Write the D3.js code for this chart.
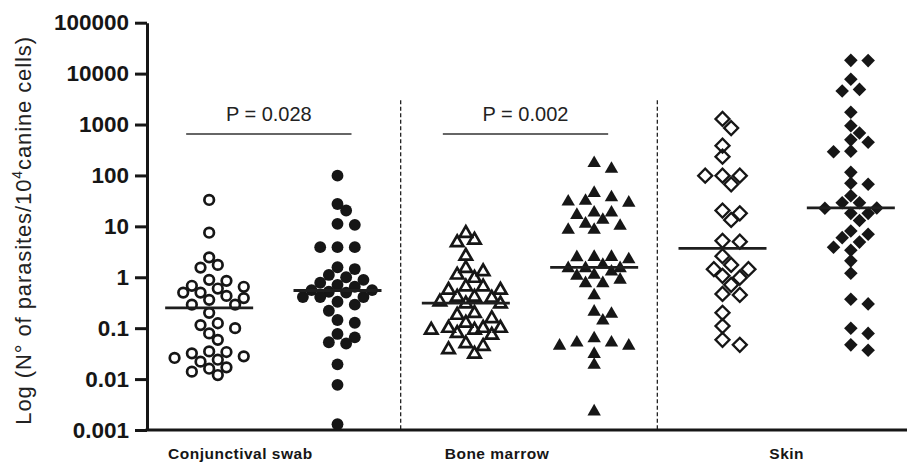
<!DOCTYPE html>
<html>
<head>
<meta charset="utf-8">
<script src="https://cdn.jsdelivr.net/npm/d3@7"></script>
<style>
  body { margin: 0; background: #fff; }
  svg { display: block; font-family: "Liberation Sans", Arial, sans-serif; }
</style>
</head>
<body>
<svg id="chart" width="907" height="465"></svg>
<script>
// data
const categories = ["Conjunctival swab", "Bone marrow", "Skin"];
const seriesNames = ["cs_open", "cs_filled", "bm_open", "bm_filled", "skin_open", "skin_filled"];

const csOpen = [33, 7.5, 2.46, 1.75, 1.55, 0.89, 0.85, 0.68, 0.60, 0.65, 0.50, 0.50, 0.43, 0.36, 0.39,
  0.29, 0.29, 0.20, 0.115, 0.125, 0.10, 0.079, 0.059, 0.035, 0.032, 0.034, 0.026, 0.028, 0.024,
  0.022, 0.016, 0.017, 0.014, 0.012];
const csFilled = [99, 27.5, 20.5, 11.2, 10.7, 3.9, 3.9, 3.9, 1.57, 1.45, 1.11, 1.0, 0.89, 0.78, 0.65,
  0.71, 0.56, 0.50, 0.56, 0.41, 0.41, 0.41, 0.52, 0.33, 0.22, 0.29, 0.128, 0.145, 0.077, 0.053,
  0.050, 0.066, 0.0195, 0.0077, 0.0013];
const bmOpen = [7.3, 4.8, 5.4, 2.6, 1.29, 1.5, 0.96, 1.11, 0.65, 0.56, 0.56, 0.65, 0.41, 0.41, 0.39,
  0.33, 0.30, 0.30, 0.18, 0.195, 0.155, 0.10, 0.126, 0.079, 0.10, 0.10, 0.073, 0.092, 0.092,
  0.044, 0.038, 0.050, 0.031];
const bmFilled = [174, 134, 45, 37, 31.5, 29, 30.5, 16.7, 18.5, 18.5, 11.2, 13.4, 8.5, 8.5, 10.2,
  2.5, 2.46, 2.24, 2.5, 1.5, 1.5, 1.5, 1.75, 1.11, 1.07, 1.29, 0.89, 0.76, 0.76, 0.44, 0.19, 0.21,
  0.14, 0.063, 0.052, 0.045, 0.045, 0.052, 0.031, 0.019, 0.0023];
const skinOpen = [1290, 850, 385, 234, 99, 67, 99, 99, 18, 13.4, 20.4, 5.0, 5.2, 2.6, 1.44, 1.07,
  0.98, 1.44, 1.75, 0.71, 0.45, 0.47, 0.20, 0.11, 0.047, 0.059];
const skinFilled = [18000, 18200, 7760, 4900, 4570, 1740, 950, 680, 450, 293, 300, 500, 115, 70, 67,
  40, 29, 29, 22.6, 23, 18, 18, 13, 8.1, 7.0, 6.0, 4.9, 3.9, 3.4, 2.1, 1.2, 0.30, 0.37, 0.079,
  0.10, 0.037, 0.047];

const medians = [0.25, 0.55, 0.31, 1.57, 3.7, 23];
const pValues = [{ from: 0, to: 1, label: "P = 0.028" }, { from: 2, to: 3, label: "P = 0.002" }];

const tickValues = [0.001, 0.01, 0.1, 1, 10, 100, 1000, 10000, 100000];
const tickLabels = ["0.001", "0.01", "0.1", "1", "10", "100", "1000", "10000", "100000"];

const allSeries = [csOpen, csFilled, bmOpen, bmFilled, skinOpen, skinFilled];

// styles
const ink = "#161616";
const shapes = ["circle", "circle", "triangle", "triangle", "diamond", "diamond"];
const filled = [false, true, false, true, false, true];

const svg = d3.select("#chart");
const plotTop = 22.7, plotBottom = 430, axisX = 147;

const y = d3.scaleLog().domain([0.001, 100000]).range([plotBottom, plotTop]);
const x = d3.scaleBand().domain(seriesNames).range([145, 915]).padding(0);
const cx = name => x(name) + x.bandwidth() / 2;

// dashed separators between tissues
[2, 4].forEach(i => {
  const sx = x(seriesNames[i]) - 1;
  svg.append("line")
    .attr("x1", sx).attr("x2", sx)
    .attr("y1", y(3000)).attr("y2", plotBottom)
    .attr("stroke", "#222").attr("stroke-width", 1.3)
    .attr("stroke-dasharray", "4,2.5");
});

// y axis
const yAxis = svg.append("g")
  .attr("transform", `translate(${axisX},0)`)
  .call(d3.axisLeft(y).tickValues(tickValues)
    .tickFormat((d, i) => tickLabels[i]).tickSize(12).tickSizeOuter(0).tickPadding(6));
yAxis.select(".domain").attr("stroke", ink).attr("stroke-width", 3);
yAxis.selectAll(".tick line").attr("stroke", ink).attr("stroke-width", 3);
yAxis.selectAll(".tick text")
  .attr("fill", ink).attr("font-size", 22.5).attr("font-weight", "bold")
  .attr("font-family", "Liberation Sans, Arial, sans-serif");

// x axis line
svg.append("line")
  .attr("x1", axisX - 1.5).attr("x2", 907)
  .attr("y1", plotBottom).attr("y2", plotBottom)
  .attr("stroke", ink).attr("stroke-width", 3);

// category labels
const labelShift = [-33, -33, 0];
categories.forEach((c, i) => {
  const mid = (cx(seriesNames[2 * i]) + cx(seriesNames[2 * i + 1])) / 2 + labelShift[i];
  svg.append("text")
    .attr("x", mid).attr("y", 459)
    .attr("text-anchor", "middle")
    .attr("font-size", 15.5).attr("font-weight", "bold")
    .attr("letter-spacing", 0.5)
    .attr("fill", ink)
    .text(c);
});

// y title
const title = svg.append("text")
  .attr("transform", `translate(31,${(plotTop + plotBottom) / 2 + 4}) rotate(-90)`)
  .attr("text-anchor", "middle")
  .attr("font-size", 22)
  .attr("letter-spacing", 0.9)
  .attr("fill", "#222");
title.append("tspan").text("Log (N\u00b0 of parasites/10");
title.append("tspan").attr("font-size", 14).attr("dy", -9).text("4");
title.append("tspan").attr("dy", 9).text("canine cells)");

// simple beeswarm, kept within +-4 half-columns like the original scatter
function swarm(values, center) {
  const step = 8.65, minD = 10.6, maxK = 8;
  const pts = values.map(v => ({ v, y: y(v) })).sort((a, b) => a.y - b.y);
  const placed = [];
  pts.forEach(p => {
    let best = null, bestGap = -1;
    for (let k = 0; k <= maxK; k++) {
      const off = (k === 0 ? 0 : (k % 2 ? 1 : -1) * Math.ceil(k / 2)) * step;
      const px = center + off;
      const gap = placed.length ? d3.min(placed, q => Math.hypot(q.x - px, q.y - p.y)) : Infinity;
      if (gap >= minD) { best = px; break; }
      if (gap > bestGap) { bestGap = gap; best = px; }
    }
    p.x = best;
    placed.push(p);
  });
  return pts;
}

const symbolFor = {
  circle: f => d3.symbol(d3.symbolCircle, f ? 110 : 72)(),
  triangle: f => d3.symbol(d3.symbolTriangle, f ? 78 : 66)(),
  diamond: f => d3.symbol(d3.symbolSquare, f ? 92 : 98)()
};

allSeries.forEach((vals, i) => {
  const name = seriesNames[i];
  const pts = swarm(vals, cx(name));
  const f = filled[i];
  const shape = shapes[i];
  svg.append("g").selectAll("path")
    .data(pts).enter().append("path")
    .attr("d", symbolFor[shape](f))
    .attr("transform", d => `translate(${d.x},${d.y})` + (shape === "diamond" ? " rotate(45)" : ""))
    .attr("fill", f ? ink : "none")
    .attr("stroke", ink)
    .attr("stroke-width", f ? 0 : (shape === "diamond" ? 2.3 : 2.7))
    .attr("stroke-linejoin", "miter");

  // median line
  svg.append("line")
    .attr("x1", cx(name) - 44).attr("x2", cx(name) + 44)
    .attr("y1", y(medians[i])).attr("y2", y(medians[i]))
    .attr("stroke", "#1e1e1e").attr("stroke-width", 2.8);
});

// p-value bars
pValues.forEach(p => {
  const x1 = cx(seriesNames[p.from]) - 23, x2 = cx(seriesNames[p.to]) + 14;
  const yy = y(650);
  svg.append("line")
    .attr("x1", x1).attr("x2", x2).attr("y1", yy).attr("y2", yy)
    .attr("stroke", "#333").attr("stroke-width", 1.6);
  svg.append("text")
    .attr("x", (x1 + x2) / 2).attr("y", yy - 13)
    .attr("text-anchor", "middle")
    .attr("font-size", 20).attr("fill", "#222")
    .text(p.label);
});
</script>
</body>
</html>
